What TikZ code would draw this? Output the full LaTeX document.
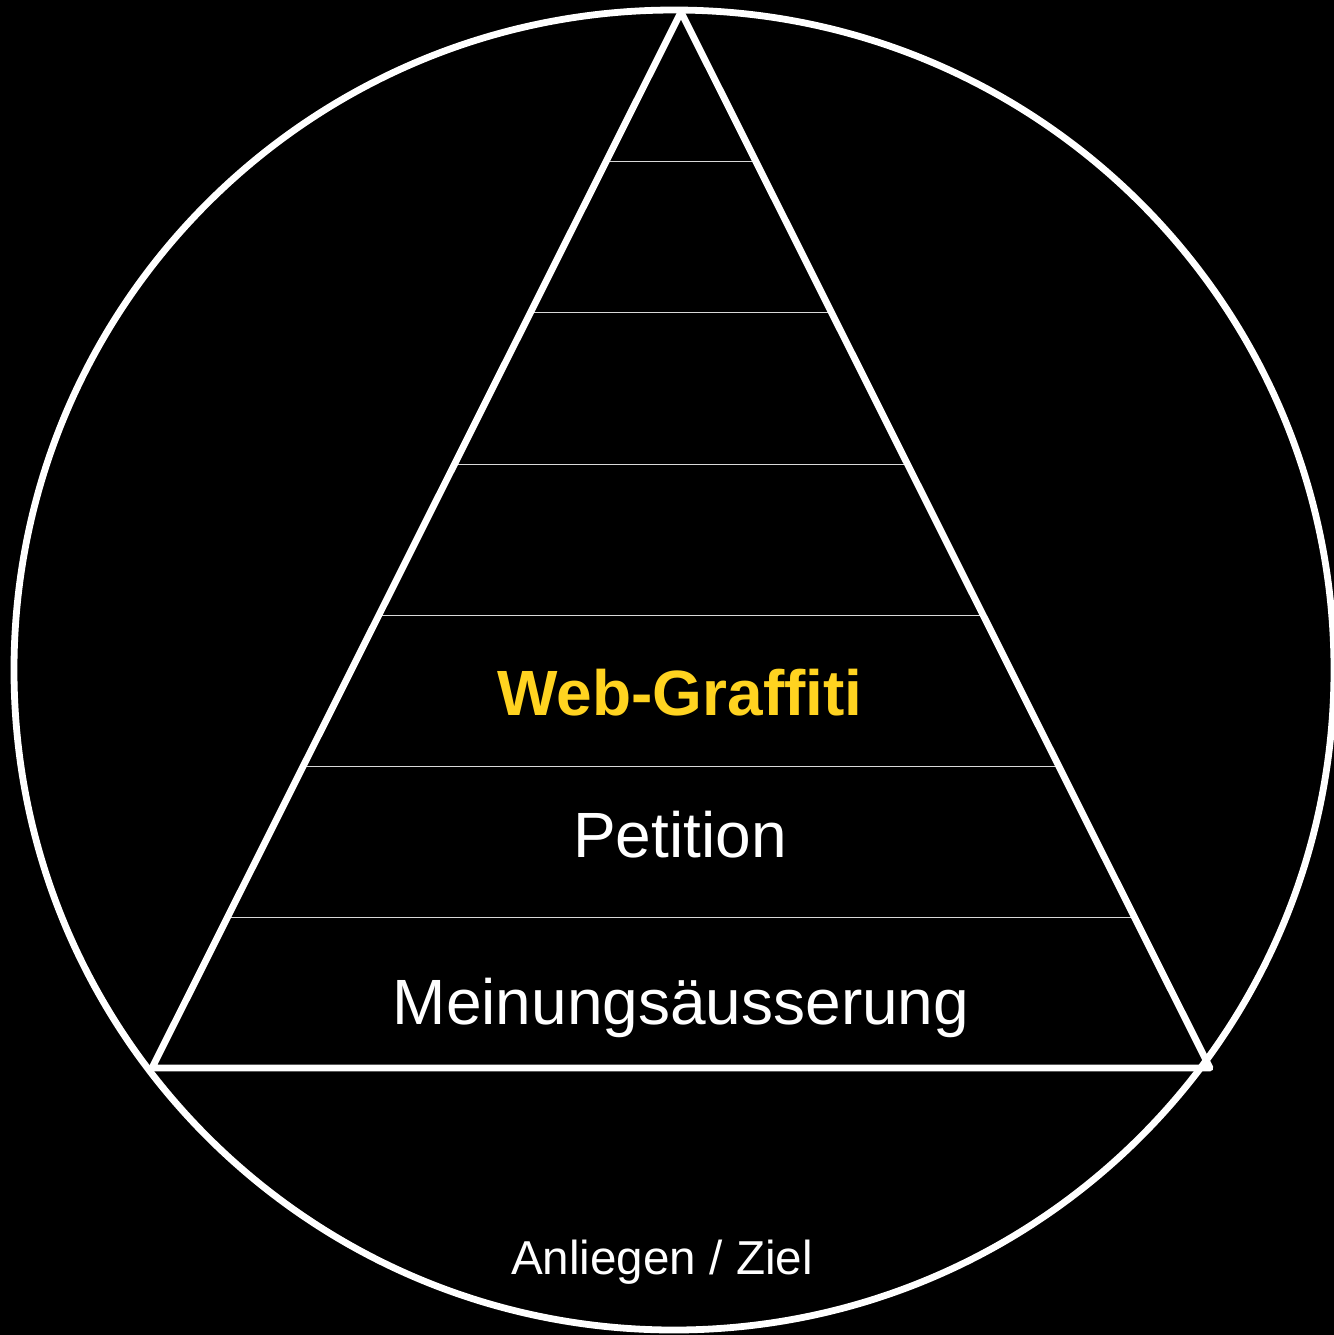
\documentclass[tikz,border=0pt]{standalone}
\usepackage{fontspec}
\setmainfont{Liberation Sans}
\usetikzlibrary{calc}
\definecolor{graffiti}{RGB}{255,211,32}
\begin{document}
\begin{tikzpicture}[x=0.5pt,y=-0.5pt,line join=round,
  frame line/.style={white,line width=3.4pt},
  level line/.style={white!85!black,line width=0.5pt},
  level text/.style={white,anchor=base,inner sep=0pt,font=\fontsize{32}{38}\selectfont}]
\fill[black] (0,0) rectangle (1334,1335);
\useasboundingbox (0,0) rectangle (1334,1335);
\coordinate (apex) at (681,12);
\coordinate (bl) at (152,1068);
\coordinate (br) at (1210,1068);
\draw[frame line] (674,670) circle[radius=660];
% levels of the pyramid
\foreach \y in {161,312,464,615,766,917} {
   \draw[level line] ($(apex)!{(\y-12)/1056}!(bl)$) -- ($(apex)!{(\y-12)/1056}!(br)$);
}
\draw[frame line] (apex) -- (bl) -- (br) -- cycle;
\node[level text,text=graffiti,font=\fontsize{32}{38}\selectfont\bfseries] (graffiti) at (680,715) {Web-Graffiti};
\node[level text] (petition) at (680,857) {Petition};
\node[level text] (meinung) at (681,1024) {Meinungsäusserung};
\node[level text,font=\fontsize{23.8}{28}\selectfont] (ziel) at (662,1274) {Anliegen / Ziel};
\end{tikzpicture}
\end{document}
